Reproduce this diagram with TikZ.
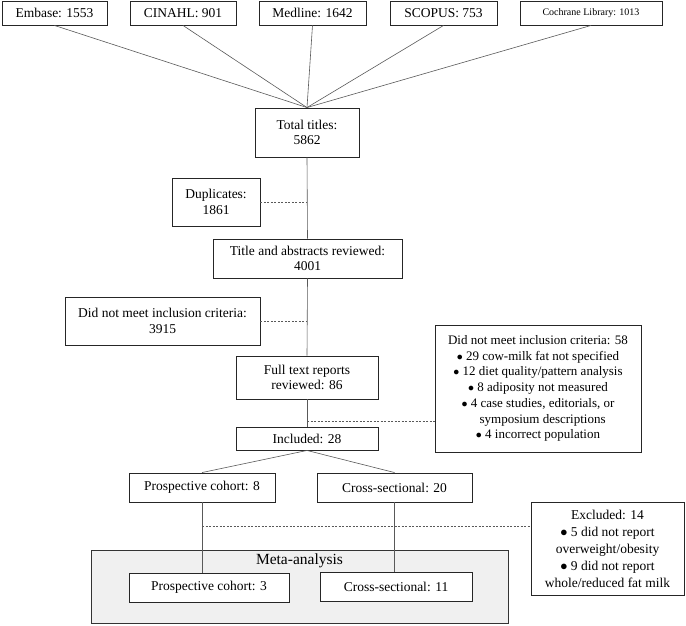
\documentclass[tikz,border=0pt]{standalone}
\usepackage{fontspec}
\setmainfont{Liberation Serif}
\begin{document}
\begin{tikzpicture}[x=1pt,y=-1pt,
  box/.style={draw=black!85, line width=0.9pt, fill=white, align=center, inner sep=2pt,
    font=\fontsize{13.5}{15.5}\selectfont},
  link/.style={draw=black!65, line width=0.6pt},
  dlink/.style={link, dash pattern=on 2pt off 1.5pt}]
\useasboundingbox (0,0) rectangle (686,625);

% meta-analysis background
\node[draw=black!80, line width=0.9pt, fill=black!6, minimum width=417, minimum height=73, inner sep=0pt] (meta) at (299.5,586.5) {};
\node[font=\fontsize{15.5}{17}\selectfont, inner sep=0pt] (metalab) at (299.5,561) {Meta-analysis};

% sources
\node[box, minimum width=105, minimum height=24] (emb) at (54.5,13) {Embase: 1553};
\node[box, minimum width=106, minimum height=24] (cin) at (183,13) {CINAHL: 901};
\node[box, minimum width=107, minimum height=24] (med) at (312.5,13) {Medline: 1642};
\node[box, minimum width=107, minimum height=24] (sco) at (443.5,13) {SCOPUS: 753};
\node[box, minimum width=142, minimum height=24, font=\fontsize{10}{12}\selectfont] (coc) at (591,13) {Cochrane Library: 1013};

\node[box, minimum width=104, minimum height=49] (tot) at (307,132.5) {Total titles:\\5862};
\node[box, minimum width=88, minimum height=48] (dup) at (216,202) {Duplicates:\\1861};
\node[box, minimum width=189, minimum height=39] (tar) at (307.5,258.5) {Title and abstracts reviewed:\\4001};
\node[box, minimum width=195, minimum height=48] (dnm) at (162.5,321) {Did not meet inclusion criteria:\\3915};
\node[box, minimum width=142, minimum height=43] (ftr) at (307,377.5) {Full text reports\\reviewed: 86};
\node[box, minimum width=206, minimum height=127, inner sep=3pt,
      font=\fontsize{13}{15.7}\selectfont] (exc1) at (538,388.5)
  {Did not meet inclusion criteria: 58\\
   $\bullet$ 29 cow-milk fat not specified\\
   $\bullet$ 12 diet quality/pattern analysis\\
   $\bullet$ 8 adiposity not measured\\
   $\bullet$ 4 case studies, editorials, or\\
   \phantom{$\bullet$} symposium descriptions\\
   $\bullet$ 4 incorrect population};
\node[box, minimum width=142, minimum height=23] (inc) at (307,438.5) {Included: 28};
\node[box, minimum width=146, minimum height=29] (pc8) at (202,487.5) {Prospective cohort: 8};
\node[box, minimum width=155, minimum height=29] (cs20) at (394.5,487.5) {Cross-sectional: 20};
\node[box, minimum width=153, minimum height=93, font=\fontsize{13.5}{17}\selectfont] (exc2) at (607.5,548.5)
  {Excluded: 14\\
   $\bullet$ 5 did not report\\
   overweight/obesity\\
   $\bullet$ 9 did not report\\
   whole/reduced fat milk};
\node[box, minimum width=160, minimum height=29] (pc3) at (209,587.5) {Prospective cohort: 3};
\node[box, minimum width=152, minimum height=29] (cs11) at (396,586.5) {Cross-sectional: 11};

% connectors
\foreach \s in {emb,cin,med,sco,coc} \draw[link] (\s.south) -- (tot.north);
\draw[link] (tot.south) -- (tar.north);
\draw[link] (tar.south) -- (ftr.north);
\draw[link] (ftr.south) -- (inc.north);
\coordinate (d1) at (tot.south |- dup.east);
\draw[dlink] (dup.east) -- (d1);
\coordinate (d2) at (tot.south |- dnm.east);
\draw[dlink] (dnm.east) -- (d2);
\coordinate (d3) at ([yshift=-22pt]ftr.south);
\draw[dlink] (d3) -- (d3 -| exc1.west);
\draw[link] (inc.south) -- (pc8.north);
\draw[link] (inc.south) -- (cs20.north);
\draw[link] (pc8.south) -- (pc8.south |- pc3.north);
\draw[link] (cs20.south) -- (cs20.south |- cs11.north);
\coordinate (d4) at ([yshift=-24pt]pc8.south);
\draw[dlink] (d4) -- (d4 -| exc2.west);
\end{tikzpicture}
\end{document}
